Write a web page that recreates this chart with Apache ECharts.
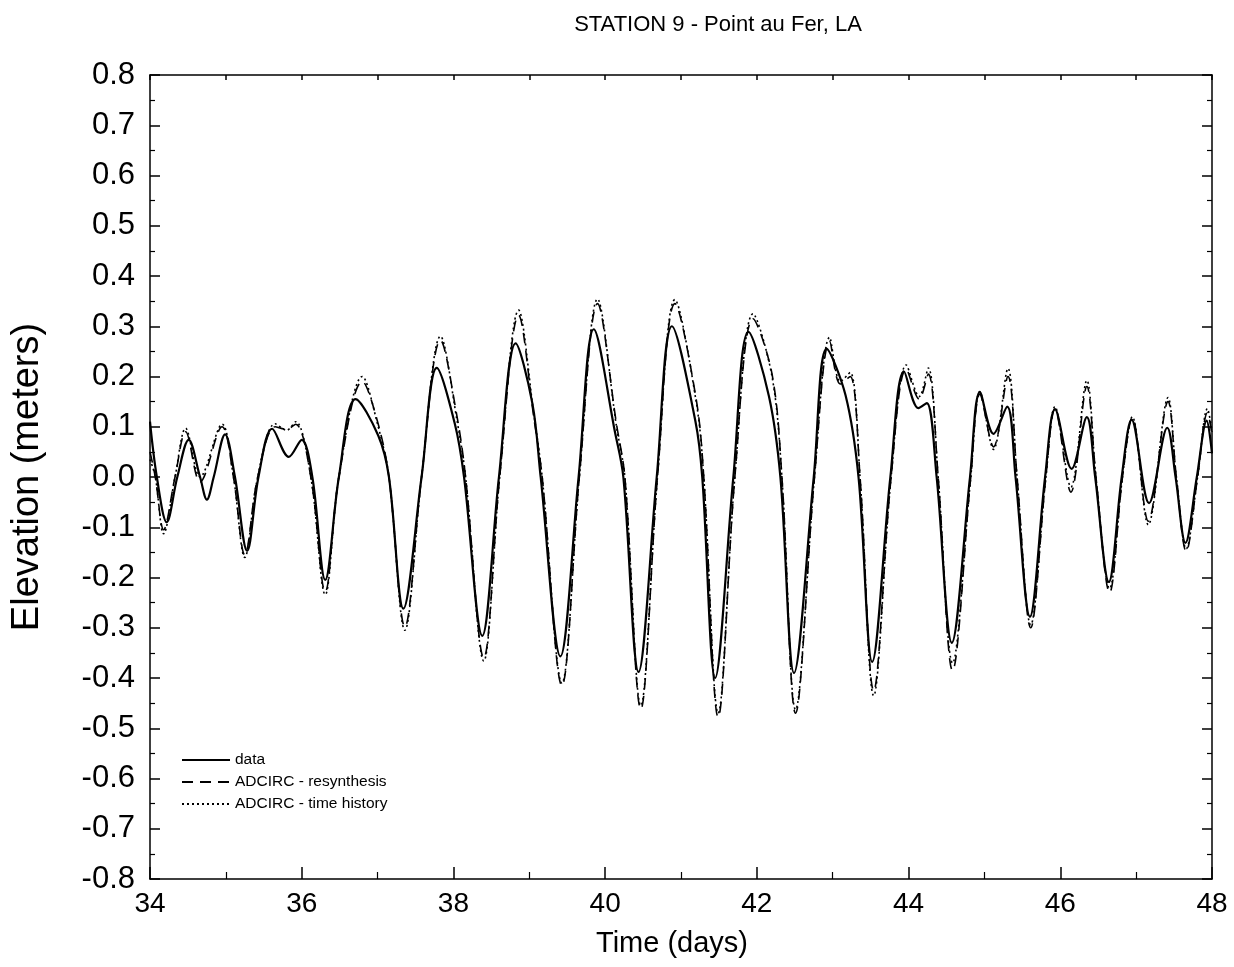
<!DOCTYPE html>
<html>
<head>
<meta charset="utf-8">
<script src="https://cdn.jsdelivr.net/npm/echarts@6/dist/echarts.min.js"></script>
<style>
html,body{margin:0;padding:0;background:#fff;}
#chart{width:1234px;height:967px;}
</style>
</head>
<body>
<div id="chart"></div>
<script>
// ---- data (time in days, elevation in meters) ----
const titleText = 'STATION 9 - Point au Fer, LA';
const seriesNames = ['data', 'ADCIRC - resynthesis', 'ADCIRC - time history'];

const dataTime = [34.00, 34.09, 34.22, 34.36, 34.51, 34.66, 34.75, 34.84, 34.99, 35.12, 35.28, 35.43, 35.61, 35.83, 36.00, 36.14, 36.31, 36.49, 36.71, 37.01, 37.15, 37.34, 37.58, 37.78, 38.02, 38.14, 38.38, 38.60, 38.82, 39.04, 39.15, 39.41, 39.65, 39.85, 40.13, 40.24, 40.44, 40.68, 40.88, 41.19, 41.28, 41.45, 41.69, 41.89, 42.16, 42.31, 42.49, 42.75, 42.92, 43.17, 43.34, 43.52, 43.76, 43.94, 44.13, 44.24, 44.37, 44.57, 44.81, 44.94, 45.12, 45.30, 45.41, 45.60, 45.80, 45.93, 46.15, 46.35, 46.46, 46.64, 46.81, 46.94, 47.17, 47.41, 47.52, 47.65, 47.80, 47.93, 48.00];
const dataElev = [0.110, 0.000, -0.090, 0.000, 0.074, 0.000, -0.045, 0.000, 0.085, 0.000, -0.147, 0.000, 0.096, 0.040, 0.074, 0.000, -0.205, 0.000, 0.155, 0.082, 0.000, -0.262, 0.000, 0.217, 0.105, 0.000, -0.316, 0.000, 0.266, 0.147, 0.000, -0.357, 0.000, 0.294, 0.089, 0.000, -0.388, 0.000, 0.300, 0.111, 0.000, -0.400, 0.000, 0.289, 0.160, 0.000, -0.390, 0.000, 0.255, 0.162, 0.000, -0.368, 0.000, 0.210, 0.137, 0.147, 0.000, -0.330, 0.000, 0.169, 0.086, 0.140, 0.000, -0.278, 0.000, 0.135, 0.016, 0.119, 0.000, -0.209, 0.000, 0.114, -0.052, 0.098, 0.000, -0.131, 0.000, 0.112, 0.047];

const modelTime = [34.00, 34.07, 34.18, 34.33, 34.47, 34.66, 34.95, 35.10, 35.25, 35.42, 35.65, 35.80, 35.92, 36.12, 36.31, 36.49, 36.80, 37.00, 37.15, 37.36, 37.58, 37.83, 38.05, 38.16, 38.40, 38.61, 38.86, 39.06, 39.17, 39.43, 39.66, 39.90, 40.15, 40.26, 40.47, 40.69, 40.92, 41.20, 41.30, 41.49, 41.71, 41.95, 42.20, 42.33, 42.51, 42.76, 42.96, 43.10, 43.23, 43.36, 43.54, 43.77, 43.97, 44.14, 44.26, 44.39, 44.58, 44.82, 44.94, 45.12, 45.31, 45.43, 45.61, 45.81, 45.93, 46.14, 46.35, 46.47, 46.65, 46.82, 46.95, 47.16, 47.42, 47.53, 47.66, 47.81, 47.94, 48.00];
const resynElev = [0.050, 0.000, -0.105, 0.000, 0.090, -0.010, 0.100, 0.000, -0.155, 0.000, 0.100, 0.095, 0.105, 0.000, -0.228, 0.000, 0.190, 0.110, 0.000, -0.298, 0.000, 0.272, 0.118, 0.000, -0.360, 0.000, 0.322, 0.118, 0.000, -0.415, 0.000, 0.345, 0.105, 0.000, -0.462, 0.000, 0.345, 0.155, 0.000, -0.478, 0.000, 0.315, 0.205, 0.000, -0.470, 0.000, 0.270, 0.185, 0.200, 0.000, -0.425, 0.000, 0.215, 0.155, 0.205, 0.000, -0.385, 0.000, 0.165, 0.060, 0.200, 0.000, -0.300, 0.000, 0.135, -0.030, 0.180, 0.000, -0.230, 0.000, 0.118, -0.088, 0.150, 0.000, -0.148, 0.000, 0.128, 0.085];
const histElev = [0.035, 0.000, -0.113, 0.000, 0.097, 0.000, 0.105, 0.000, -0.160, 0.000, 0.106, 0.093, 0.110, 0.000, -0.234, 0.000, 0.200, 0.105, 0.000, -0.305, 0.000, 0.280, 0.110, 0.000, -0.366, 0.000, 0.332, 0.125, 0.000, -0.410, 0.000, 0.354, 0.100, 0.000, -0.455, 0.000, 0.353, 0.150, 0.000, -0.470, 0.000, 0.325, 0.200, 0.000, -0.463, 0.000, 0.278, 0.190, 0.208, 0.000, -0.435, 0.000, 0.223, 0.160, 0.217, 0.000, -0.370, 0.000, 0.170, 0.055, 0.216, 0.000, -0.294, 0.000, 0.140, -0.020, 0.192, 0.000, -0.222, 0.000, 0.120, -0.095, 0.158, 0.000, -0.143, 0.000, 0.136, 0.090];

const xTicks = [34, 36, 38, 40, 42, 44, 46, 48];
const yTicks = [-0.8, -0.7, -0.6, -0.5, -0.4, -0.3, -0.2, -0.1, 0.0, 0.1, 0.2, 0.3, 0.4, 0.5, 0.6, 0.7, 0.8];

function pairs(t, v) { return t.map((x, i) => [x, v[i]]); }

const FONT = '"Liberation Sans", Arial, Helvetica, sans-serif';
const chart = echarts.init(document.getElementById('chart'), null, {renderer: 'canvas'});

const axisLineStyle = {color: '#000', width: 1.5};
const noSymbol = {color: 'rgba(0,0,0,0)', borderColor: 'rgba(0,0,0,0)'};
const option = {
  backgroundColor: '#fff',
  animation: false,
  title: {
    text: titleText,
    left: 713, top: 9, textAlign: 'center',
    textStyle: {fontFamily: FONT, fontSize: 22, fontWeight: 'normal', color: '#000'}
  },
  legend: {
    orient: 'vertical',
    left: 176, top: 747,
    itemWidth: 48, itemHeight: 10, itemGap: 6,
    data: seriesNames,
    itemStyle: {opacity: 0},
    textStyle: {fontFamily: FONT, fontSize: 15.5, color: '#000'}
  },
  grid: {left: 150, right: 22, top: 75, bottom: 88, containLabel: false},
  xAxis: [{
    type: 'value', min: xTicks[0], max: xTicks[xTicks.length - 1], interval: 2,
    name: 'Time (days)', nameLocation: 'middle', nameGap: 50,
    nameTextStyle: {fontFamily: FONT, fontSize: 29, color: '#000', padding: [0, 18, 0, 0]},
    axisLine: {show: true, onZero: false, lineStyle: axisLineStyle},
    axisTick: {show: true, inside: true, length: 12, lineStyle: {color: '#000', width: 1.5}},
    minorTick: {show: true, splitNumber: 2, length: 7, lineStyle: {color: '#000', width: 1.2}},
    axisLabel: {fontFamily: FONT, fontSize: 28, color: '#000', margin: 11, formatter: v => String(v)},
    splitLine: {show: false}
  }, {
    type: 'value', position: 'top', min: 34, max: 48, interval: 1,
    axisLine: {show: true, onZero: false, lineStyle: axisLineStyle},
    axisTick: {show: true, inside: true, length: 5, lineStyle: {color: '#000', width: 1.5}},
    axisLabel: {show: false}, splitLine: {show: false}
  }],
  yAxis: [{
    type: 'value', min: yTicks[0], max: yTicks[yTicks.length - 1], interval: 0.1,
    name: 'Elevation (meters)', nameLocation: 'middle', nameGap: 103, nameRotate: 90,
    nameTextStyle: {fontFamily: FONT, fontSize: 38, color: '#000'},
    axisLine: {show: true, onZero: false, lineStyle: axisLineStyle},
    axisTick: {show: true, inside: true, length: 10, lineStyle: {color: '#000', width: 1.5}},
    minorTick: {show: true, splitNumber: 2, length: 5, lineStyle: {color: '#000', width: 1.2}},
    axisLabel: {fontFamily: FONT, fontSize: 31, color: '#000', margin: 15, formatter: v => v.toFixed(1)},
    splitLine: {show: false}
  }, {
    type: 'value', position: 'right', min: -0.8, max: 0.8, interval: 0.1,
    axisLine: {show: true, onZero: false, lineStyle: axisLineStyle},
    axisTick: {show: true, inside: true, length: 10, lineStyle: {color: '#000', width: 1.5}},
    minorTick: {show: true, splitNumber: 2, length: 5, lineStyle: {color: '#000', width: 1.2}},
    axisLabel: {show: false}, splitLine: {show: false}
  }],
  series: [{
    name: seriesNames[1], type: 'line', xAxisIndex: 0, yAxisIndex: 0,
    data: pairs(modelTime, resynElev), smooth: 0.35, symbol: 'none', itemStyle: noSymbol,
    lineStyle: {color: '#000', width: 1.6, type: [11, 7]}, z: 2
  }, {
    name: seriesNames[2], type: 'line', xAxisIndex: 0, yAxisIndex: 0,
    data: pairs(modelTime, histElev), smooth: 0.35, symbol: 'none', itemStyle: noSymbol,
    lineStyle: {color: '#000', width: 1.6, type: [2, 3]}, z: 2
  }, {
    name: seriesNames[0], type: 'line', xAxisIndex: 0, yAxisIndex: 0,
    data: pairs(dataTime, dataElev), smooth: 0.35, symbol: 'none', itemStyle: noSymbol,
    lineStyle: {color: '#000', width: 2.2, type: 'solid'}, z: 3
  }]
};
chart.setOption(option);
</script>
</body>
</html>
